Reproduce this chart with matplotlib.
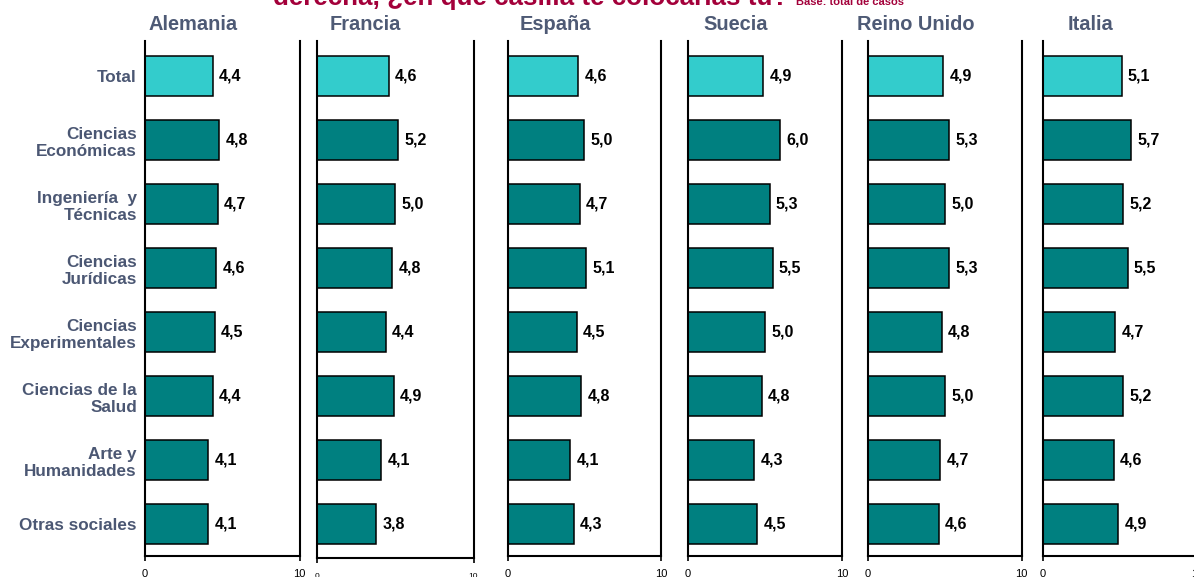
import numpy as np
import matplotlib
matplotlib.use("Agg")
import matplotlib.pyplot as plt

plt.rcParams['font.family'] = ['Liberation Sans', 'DejaVu Sans']

# data
categories = ["Total", "Ciencias\nEconómicas", "Ingeniería  y\nTécnicas", "Ciencias\nJurídicas",
              "Ciencias\nExperimentales", "Ciencias de la\nSalud", "Arte y\nHumanidades", "Otras sociales"]
countries = ["Alemania", "Francia", "España", "Suecia", "Reino Unido", "Italia"]
alemania = [4.4, 4.8, 4.7, 4.6, 4.5, 4.4, 4.1, 4.1]
francia = [4.6, 5.2, 5.0, 4.8, 4.4, 4.9, 4.1, 3.8]
espana = [4.6, 5.0, 4.7, 5.1, 4.5, 4.8, 4.1, 4.3]
suecia = [4.9, 6.0, 5.3, 5.5, 5.0, 4.8, 4.3, 4.5]
reino_unido = [4.9, 5.3, 5.0, 5.3, 4.8, 5.0, 4.7, 4.6]
italia = [5.1, 5.7, 5.2, 5.5, 4.7, 5.2, 4.6, 4.9]
series = [alemania, francia, espana, suecia, reino_unido, italia]
xticks = [0, 10]

W, H = 1194, 577
fig = plt.figure(figsize=(W / 100, H / 100), dpi=100)

# panel extents in pixels: left, right, top, bottom
panels = [(145, 299.5, 41, 556), (317, 473.5, 41, 558), (507.5, 661, 41, 556),
          (688, 842, 41, 556), (868, 1021.5, 41, 556), (1043, 1197, 41, 556)]

label_col = '#4B5773'
y = np.arange(len(categories))

for i, (name, vals) in enumerate(zip(countries, series)):
    l, r, t, b = panels[i]
    ax = fig.add_axes([l / W, 1 - b / H, (r - l) / W, (b - t) / H])
    colors = ['#33CCCC'] + ['#008080'] * (len(vals) - 1)
    ax.barh(y, vals, height=0.64, color=colors, edgecolor='black', linewidth=1.1)
    for yy, v in zip(y, vals):
        ax.annotate(f"{v:.1f}".replace('.', ','), (v, yy), xytext=(4.5, 0),
                    textcoords='offset points', va='center', ha='left',
                    fontsize=11.5, fontweight='bold', color='black')
    ax.set_xlim(0, 10)
    ax.set_ylim(7.5 + (b - 556) / 64, -35 / 64)
    ax.set_xticks(xticks)
    ax.set_xticklabels([str(x) for x in xticks], fontsize=6 if i == 1 else 8)
    ax.tick_params(axis='x', direction='out', length=3.6, width=1.2,
                   pad=7.5 if i == 1 else 5.8, colors='black')
    ax.spines['top'].set_visible(False)
    for s in ['left', 'right', 'bottom']:
        ax.spines[s].set_linewidth(1.5)
        ax.spines[s].set_color('black')
    if i == 0:
        ax.set_yticks(y)
        ax.set_yticklabels(categories, fontsize=12.3, fontweight='bold', color=label_col)
        ax.tick_params(axis='y', length=0, pad=5.8)
    else:
        ax.set_yticks([])
    ax.text(3.1, -0.8, name, ha='center', va='center', fontsize=14.4,
            fontweight='bold', color='#4E5A75', transform=ax.transData, clip_on=False)

# title, cut off by the top edge in the reference
fig.text(273 / W, 1 - 5 / H, "derecha, ¿en qué casilla te colocarías tú?", ha='left',
         va='baseline', fontsize=18.7, fontweight='bold', color='#A3003A')
fig.text(796 / W, 1 - 5 / H, "Base: total de casos", ha='left', va='baseline',
         fontsize=8, fontweight='bold', color='#A3003A')

fig.savefig("out.png", dpi=100)
